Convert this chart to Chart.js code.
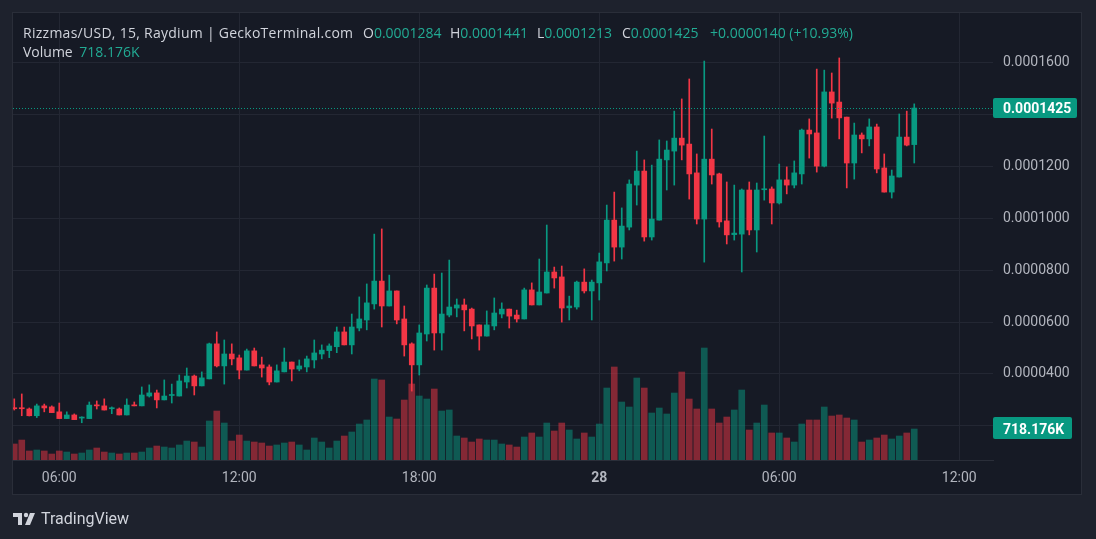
<!DOCTYPE html>
<html>
<head>
<meta charset="utf-8">
<script src="https://cdn.jsdelivr.net/npm/chart.js@4.4.1/dist/chart.umd.min.js"></script>
<style>
  html, body { margin: 0; padding: 0; background: #1e222d; }
  #wrap { position: relative; width: 1096px; height: 539px; overflow: hidden; }
  #chart { position: absolute; left: 0; top: 0; }
  .txt { position: absolute; font: 14px "Open Sans", sans-serif; color: #d1d4dc; white-space: nowrap; line-height: 17px; }
  .val { color: #22ab94; }
  #logo { position: absolute; left: 13px; top: 509px; display: flex; align-items: center; }
  #logo span { font: 16px Roboto, sans-serif; color: #d1d4dc; margin-left: 4px; }
</style>
</head>
<body>
<div id="wrap">
  <canvas id="chart" width="1096" height="539"></canvas>
  <div class="txt" style="left:23px;top:24px;letter-spacing:0.27px">Rizzmas/USD, 15, Raydium | GeckoTerminal.com</div>
  <div class="txt" style="left:363px;top:24px">O<span class="val">0.0001284</span></div>
  <div class="txt" style="left:450px;top:24px">H<span class="val">0.0001441</span></div>
  <div class="txt" style="left:537px;top:24px">L<span class="val">0.0001213</span></div>
  <div class="txt" style="left:622px;top:24px">C<span class="val">0.0001425</span></div>
  <div class="txt val" style="left:710px;top:24px">+0.0000140 (+10.93%)</div>
  <div class="txt" style="left:23px;top:43px">Volume <span class="val" style="margin-left:3px">718.176K</span></div>
  <div id="logo">
    <svg width="24" height="16" viewBox="0 0 24 16">
      <path d="M0 2h9v12H5V6H0z" fill="#d1d4dc"/>
      <circle cx="13" cy="4" r="2.2" fill="#d1d4dc"/>
      <path d="M17 2h5l-5 12h-5z" fill="#d1d4dc"/>
    </svg>
    <span>TradingView</span>
  </div>
</div>
<script>
// 15-minute candles, 04:30 on the 27th to 10:30 on the 28th, prices in units of 1e-7 USD
const PRICE_UNIT = 1e-7;

const OPEN = [
  269, 268, 265, 239, 277, 273, 254, 228, 242, 230, 228, 280, 277, 266, 265, 242, 280, 277, 315, 327,
  300, 317, 315, 369, 392, 354, 381, 516, 431, 477, 462, 415, 489, 435, 427, 369, 408, 446, 419, 427,
  454, 477, 490, 505, 562, 512, 577, 608, 670, 758, 662, 720, 612, 516, 435, 554, 731, 558, 627, 654,
  666, 650, 589, 546, 585, 631, 650, 627, 612, 724, 666, 712, 793, 774, 655, 658, 754, 720, 751, 828,
  993, 889, 966, 1128, 1182, 928, 993, 1225, 1259, 1309, 1286, 1175, 997, 1228, 1171, 990, 937, 939, 1109, 955,
  1110, 1113, 1059, 1148, 1128, 1171, 1340, 1329, 1201, 1487, 1448, 1390, 1213, 1321, 1306, 1352, 1194, 1101, 1159, 1313,
  1284,
];
const HIGH = [
  304, 323, 269, 284, 284, 277, 288, 254, 246, 235, 292, 296, 304, 273, 269, 304, 292, 350, 358, 338,
  377, 361, 396, 423, 396, 408, 519, 562, 531, 516, 473, 496, 500, 465, 435, 435, 500, 446, 454, 469,
  531, 512, 516, 581, 581, 631, 697, 747, 939, 959, 781, 720, 662, 520, 589, 743, 785, 789, 839, 689,
  689, 654, 589, 643, 693, 674, 650, 646, 731, 751, 843, 974, 812, 816, 700, 758, 805, 762, 866, 1051,
  1101, 1040, 1148, 1259, 1225, 1205, 1302, 1298, 1413, 1460, 1537, 1248, 1606, 1344, 1174, 1140, 1128, 1113, 1140, 1136,
  1317, 1121, 1209, 1198, 1221, 1344, 1383, 1575, 1571, 1560, 1618, 1390, 1367, 1329, 1383, 1363, 1248, 1186, 1402, 1413,
  1441,
];
const LOW = [
  261, 239, 238, 232, 254, 251, 228, 228, 224, 212, 228, 265, 261, 247, 242, 242, 277, 277, 311, 269,
  300, 288, 315, 346, 319, 354, 381, 427, 361, 435, 381, 415, 431, 388, 358, 369, 408, 373, 412, 408,
  423, 458, 463, 482, 512, 477, 566, 570, 650, 581, 662, 593, 469, 334, 396, 527, 492, 492, 620, 620,
  566, 535, 492, 546, 570, 616, 577, 600, 612, 666, 666, 712, 731, 600, 608, 650, 712, 608, 685, 797,
  835, 843, 955, 1051, 912, 916, 993, 1109, 1128, 1225, 1074, 978, 831, 1132, 966, 901, 916, 793, 936, 870,
  1070, 978, 1055, 1094, 1117, 1132, 1232, 1178, 1198, 1386, 1306, 1117, 1151, 1252, 1279, 1175, 1101, 1078, 1159, 1279,
  1213,
];
const CLOSE = [
  266, 266, 239, 277, 269, 251, 228, 242, 224, 233, 280, 277, 261, 269, 242, 280, 277, 319, 327, 300,
  315, 319, 373, 392, 354, 385, 516, 431, 477, 458, 415, 489, 431, 423, 369, 412, 446, 419, 431, 458,
  481, 492, 508, 562, 512, 581, 612, 674, 758, 662, 720, 608, 512, 435, 558, 731, 558, 631, 658, 666,
  647, 585, 546, 589, 635, 650, 623, 612, 724, 666, 716, 793, 770, 654, 662, 754, 720, 754, 832, 993,
  889, 970, 1132, 1182, 928, 997, 1228, 1263, 1309, 1282, 1171, 997, 1228, 1167, 986, 936, 943, 1109, 955, 1109,
  1113, 1059, 1148, 1128, 1175, 1340, 1325, 1201, 1487, 1444, 1387, 1213, 1321, 1306, 1352, 1190, 1101, 1163, 1313, 1282,
  1425,
];
// volume, thousands
const VOLUME = [
  371, 463, 209, 232, 209, 139, 209, 185, 139, 162, 232, 278, 185, 162, 139, 162, 162, 185, 278, 324,
  301, 278, 348, 440, 417, 301, 904, 1135, 857, 440, 579, 440, 417, 394, 324, 348, 394, 417, 348, 232,
  510, 417, 278, 440, 556, 649, 834, 927, 1877, 1854, 996, 950, 1390, 1761, 1483, 1413, 1645, 1135, 1159, 556,
  510, 417, 487, 463, 463, 371, 348, 301, 533, 626, 533, 857, 672, 857, 695, 487, 626, 533, 834, 1668,
  2155, 1344, 1228, 1900, 1668, 1089, 1205, 1066, 1552, 2039, 1413, 1182, 2595, 1182, 857, 996, 1159, 1622, 695, 857,
  1274, 626, 626, 510, 417, 834, 927, 927, 1228, 1019, 1043, 973, 927, 417, 463, 510, 579, 487, 556, 626,
  718.176,
];

const TIME_SLOTS = [6, 30, 54, 78, 102, 126];
const TIME_LABELS = ["06:00", "12:00", "18:00", "28", "06:00", "12:00"];
const PRICE_TICKS = [200, 400, 600, 800, 1000, 1200, 1400, 1600];

const LAST_PRICE_LABEL = "0.0001425";
const LAST_VOLUME_LABEL = "718.176K";

const UP = "#089981";
const DOWN = "#f23645";
const UP_VOL = "rgba(8,153,129,0.5)";
const DOWN_VOL = "rgba(242,54,69,0.5)";
const GRID = "#232733";
const AXIS_TEXT = "#b2b5be";

const isUp = (i) => CLOSE[i] >= OPEN[i];

const panelPlugin = {
  id: "panel",
  beforeDraw(chart) {
    const ctx = chart.ctx;
    ctx.save();
    ctx.fillStyle = "#161a25";
    ctx.fillRect(13, 12, 1069, 482);
    ctx.strokeStyle = "#2a2e39";
    ctx.lineWidth = 1;
    ctx.strokeRect(12.5, 12.5, 1069, 482);
    ctx.restore();
  },
  afterDatasetsDraw(chart) {
    const ctx = chart.ctx;
    const area = chart.chartArea;
    const yPrice = chart.scales.y.getPixelForValue(CLOSE[CLOSE.length - 1] * PRICE_UNIT);
    const yVol = chart.scales.vol.getPixelForValue(VOLUME[VOLUME.length - 1]);

    ctx.save();
    ctx.strokeStyle = UP;
    ctx.lineWidth = 1;
    ctx.setLineDash([1, 2]);
    ctx.beginPath();
    ctx.moveTo(area.left, Math.round(yPrice) + 0.5);
    ctx.lineTo(area.right, Math.round(yPrice) + 0.5);
    ctx.stroke();
    ctx.setLineDash([]);

    const drawBox = (label, y, w, top) => {
      ctx.fillStyle = UP;
      ctx.beginPath();
      ctx.roundRect(area.right, y - top, w, top + 10, 2);
      ctx.fill();
      ctx.fillStyle = "#ffffff";
      ctx.font = "bold 14px Roboto, sans-serif";
      ctx.textBaseline = "middle";
      ctx.textAlign = "left";
      ctx.fillText(label, area.right + 10, y + 1);
    };
    drawBox(LAST_PRICE_LABEL, yPrice, 84, 10);
    drawBox(LAST_VOLUME_LABEL, yVol, 79, 12);
    ctx.restore();
  },
};

const candleColors = OPEN.map((o, i) => (isUp(i) ? UP : DOWN));

new Chart(document.getElementById("chart"), {
  type: "bar",
  data: {
    datasets: [
      {
        label: "body",
        data: OPEN.map((o, i) => ({ x: i, y: [o * PRICE_UNIT, CLOSE[i] * PRICE_UNIT] })),
        backgroundColor: candleColors,
        barThickness: 5,
        minBarLength: 1,
        grouped: false,
        yAxisID: "y",
        order: 1,
      },
      {
        label: "wick",
        data: OPEN.map((o, i) => ({ x: i, y: [LOW[i] * PRICE_UNIT, HIGH[i] * PRICE_UNIT] })),
        backgroundColor: candleColors,
        barThickness: 1,
        grouped: false,
        yAxisID: "y",
        order: 2,
      },
      {
        label: "volume",
        data: VOLUME.map((v, i) => ({ x: i, y: v })),
        backgroundColor: OPEN.map((o, i) => (isUp(i) ? UP_VOL : DOWN_VOL)),
        barThickness: 6,
        grouped: false,
        yAxisID: "vol",
        order: 3,
      },
    ],
  },
  options: {
    responsive: false,
    animation: false,
    devicePixelRatio: 1,
    layout: { padding: { left: 13, top: 13, right: 14, bottom: 45 } },
    plugins: { legend: { display: false }, tooltip: { enabled: false } },
    scales: {
      x: {
        type: "linear",
        min: -0.17,
        max: 130.5,
        offset: false,
        afterBuildTicks: (scale) => {
          scale.ticks = TIME_SLOTS.map((value) => ({ value }));
        },
        afterFit: (scale) => {
          scale.height = 34;
          scale.paddingLeft = 0;
          scale.paddingRight = 0;
        },
        grid: { color: GRID, drawTicks: false, offset: false },
        border: { display: true, color: "#2a2e39" },
        ticks: {
          color: AXIS_TEXT,
          padding: 10,
          maxRotation: 0,
          autoSkip: false,
          font: (c) => ({ family: "Roboto", size: 14, weight: c.tick && c.tick.value === 78 ? "bold" : "normal" }),
          callback: (value) => TIME_LABELS[TIME_SLOTS.indexOf(value)],
        },
      },
      y: {
        position: "right",
        min: 68.4 * PRICE_UNIT,
        max: 1791.2 * PRICE_UNIT,
        afterBuildTicks: (scale) => {
          scale.ticks = PRICE_TICKS.map((v) => ({ value: v * PRICE_UNIT }));
        },
        afterFit: (scale) => {
          scale.width = 89;
          scale.paddingTop = 0;
          scale.paddingBottom = 0;
        },
        grid: { color: GRID, drawTicks: false },
        border: { display: false },
        ticks: {
          color: AXIS_TEXT,
          padding: 10,
          font: { family: "Roboto", size: 14 },
          callback: (value) => value.toFixed(7),
        },
      },
      vol: {
        display: false,
        min: 0,
        max: 10357,
      },
    },
  },
  plugins: [panelPlugin],
});
</script>
</body>
</html>
